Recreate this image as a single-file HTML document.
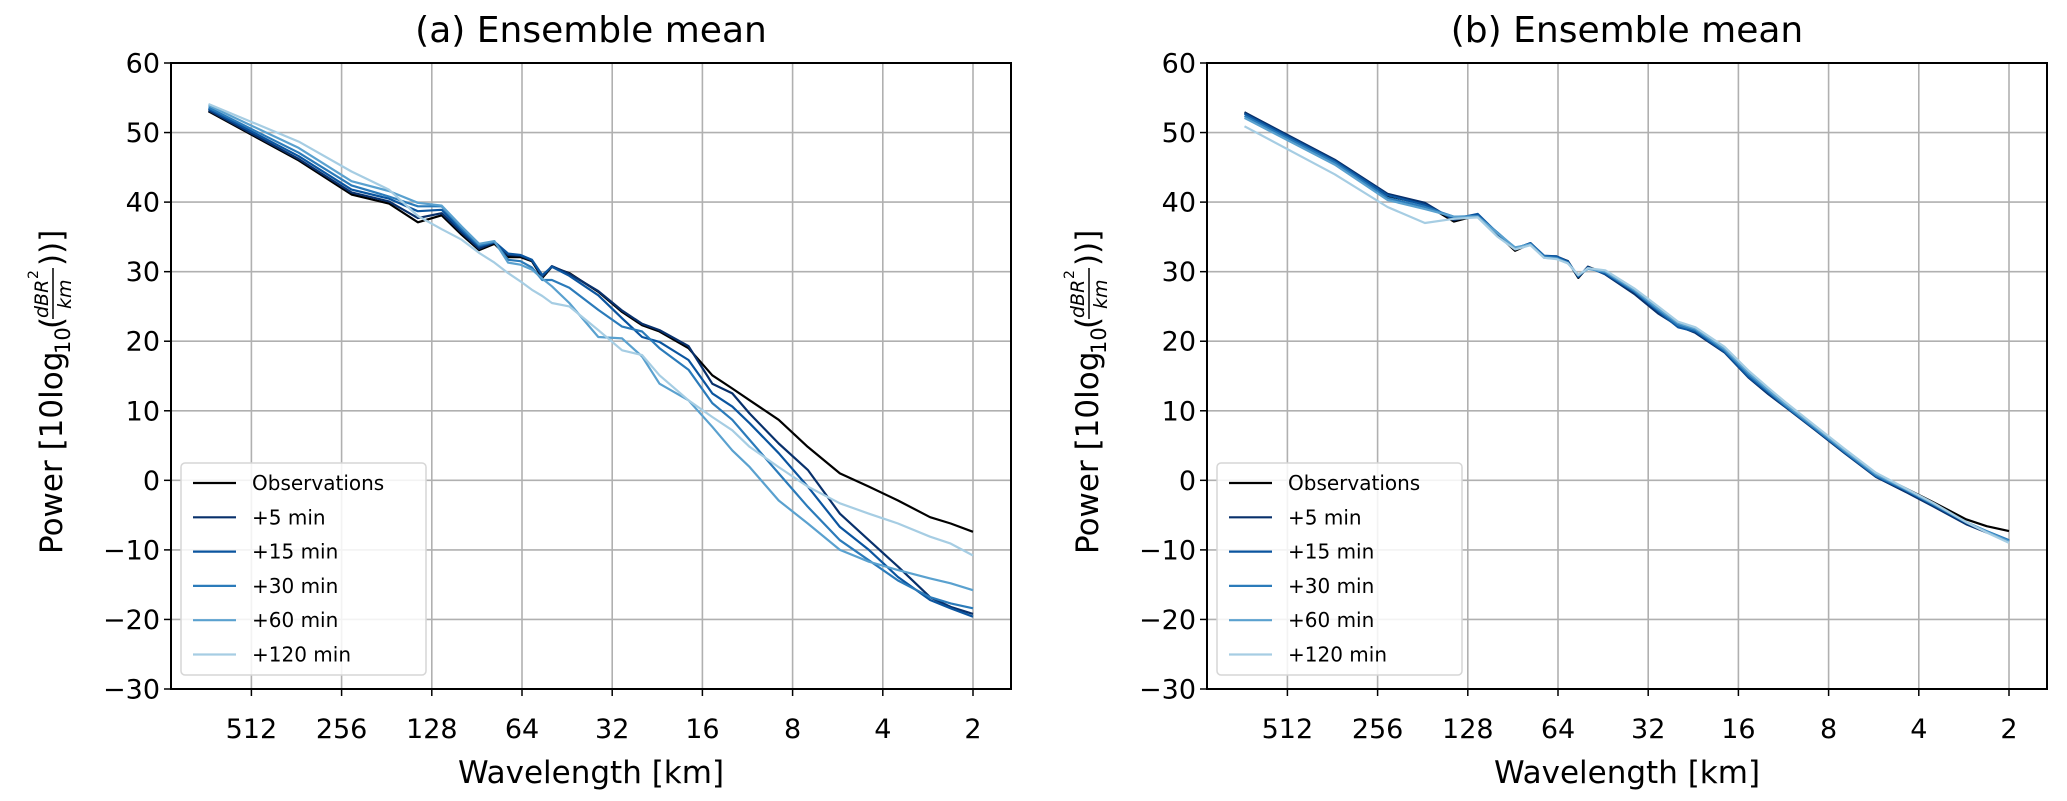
<!DOCTYPE html>
<html><head><meta charset="utf-8"><style>
html,body{margin:0;padding:0;background:#fff;}
svg{display:block;font-family:"DejaVu Sans","Liberation Sans",sans-serif;}
</style></head><body>
<svg id="fig" width="2067" height="801" viewBox="0 0 2067 801" xmlns="http://www.w3.org/2000/svg"></svg>
<script>
// ---- data ----
const wavenumbers = [1,2,3,4,5,6,7,8,9,10,11,12,13,14,16,20,24,28,32,40,48,56,64,80,100,128,160,200,256,300,356];
const domainKm = 712;
const xTickLabels = [512,256,128,64,32,16,8,4,2];
const yTickLabels = [60,50,40,30,20,10,0,-10,-20,-30];
const seriesNames = ["Observations","+5 min","+15 min","+30 min","+60 min","+120 min"];
const seriesColors = ["#000000","#08306b","#0b559f","#2b7bba","#5aa1cf","#a6cde3"];

const aObs  = [53.05,46.0,41.1,39.8,37.1,38.1,35.3,33.1,34.0,32.1,32.1,31.5,29.1,30.7,29.8,27.1,24.2,22.3,21.4,19.0,15.1,13.2,11.5,8.7,4.8,1.0,-0.9,-2.9,-5.3,-6.2,-7.4];
const a5    = [53.2,46.2,41.4,40.1,37.7,38.4,35.6,33.3,34.2,32.4,32.3,31.6,29.3,30.8,29.7,27.2,24.4,22.5,21.6,19.3,13.9,12.5,9.6,5.3,1.5,-4.8,-8.6,-12.4,-16.8,-18.2,-19.2];
const a15   = [53.4,46.6,41.8,40.5,38.7,38.9,35.9,33.6,34.3,32.6,32.4,31.7,29.5,30.7,29.4,26.6,23.3,20.6,19.9,17.3,12.5,10.6,8.2,3.9,-0.9,-6.7,-10.0,-13.9,-17.2,-18.4,-19.6];
const a30   = [53.6,47.1,42.4,40.8,39.4,39.4,36.2,33.8,34.3,31.7,31.5,30.6,28.8,28.8,27.7,24.5,22.1,21.4,19.0,15.9,11.1,8.7,5.8,1.0,-3.8,-8.6,-11.5,-14.4,-16.8,-17.7,-18.4];
const a60   = [53.9,47.8,43.0,41.6,39.9,39.5,36.5,34.0,34.4,31.3,31.0,30.3,29.0,27.9,25.5,20.6,20.4,17.8,13.9,11.5,7.7,4.3,1.9,-2.9,-6.2,-10.0,-11.7,-12.9,-14.1,-14.8,-15.8];
const a120  = [54.1,48.7,44.4,41.8,38.0,36.1,34.6,32.7,31.3,29.8,28.6,27.4,26.5,25.5,25.0,21.6,18.7,18.0,15.1,11.5,9.1,7.2,4.8,1.9,-0.9,-3.3,-4.8,-6.2,-8.1,-9.1,-10.8];

const bObs  = [52.9,45.8,40.9,39.7,37.2,38.1,35.3,33.0,34.0,32.1,32.1,31.5,29.1,30.7,29.8,27.0,24.1,22.4,21.3,18.6,15.0,12.6,10.8,7.6,4.4,0.9,-1.1,-3.2,-5.6,-6.6,-7.3];
const b5    = [52.9,46.1,41.2,39.9,37.4,38.2,35.4,33.2,34.1,32.2,32.2,31.5,29.2,30.7,29.6,26.8,24.0,22.2,21.2,18.4,14.8,12.4,10.5,7.3,4.0,0.5,-1.6,-3.8,-6.3,-7.5,-8.7];
const b15   = [52.7,45.9,41.0,39.6,37.6,38.3,35.5,33.3,34.1,32.3,32.2,31.4,29.3,30.6,29.7,27.1,24.3,22.0,21.4,18.5,14.9,12.6,10.6,7.4,4.1,0.6,-1.4,-3.6,-6.1,-7.4,-8.8];
const b30   = [52.4,45.7,40.6,39.3,37.9,38.0,35.6,33.4,34.0,32.2,32.0,31.3,29.4,30.5,29.9,27.2,24.5,22.3,21.6,18.7,15.2,12.8,10.7,7.5,4.2,0.7,-1.3,-3.5,-6.0,-7.3,-8.6];
const b60   = [52.1,45.4,40.3,39.0,37.9,37.9,35.5,33.5,33.9,32.0,31.9,31.2,29.5,30.4,30.0,27.4,24.7,22.6,21.8,18.9,15.5,13.0,10.9,7.7,4.4,0.9,-1.2,-3.4,-6.0,-7.4,-8.8];
const b120  = [50.9,44.0,39.3,37.0,37.6,37.8,35.0,33.2,33.8,32.0,31.8,31.2,29.5,30.5,30.2,27.6,25.0,22.8,22.0,19.2,15.8,13.3,11.2,7.9,4.6,1.1,-1.1,-3.3,-6.0,-7.5,-9.0];

const panelASeries = [aObs,a5,a15,a30,a60,a120];
const panelBSeries = [bObs,b5,b15,b30,b60,b120];

// ---- layout ----
const NS = "http://www.w3.org/2000/svg";
const svg = document.getElementById("fig");
const plotTop = 63, plotBottom = 689;
function el(tag, attrs, parent){
  const e = document.createElementNS(NS, tag);
  for (const k in attrs) e.setAttribute(k, attrs[k]);
  (parent||svg).appendChild(e);
  return e;
}
function yScale(v){ return plotBottom - (v - (-30)) / 90 * (plotBottom - plotTop); }

function drawPanel(off, title, series, key){
  const left = 171 + off, right = 1011 + off;
  const x2 = 973 + off, dx = 90.2;
  const xScale = wl => x2 - dx * Math.log2(wl / 2);
  const g = el("g", {});
  
  

  xTickLabels.forEach(t => {
    const x = xScale(t);
    const l = el("line", {x1:x, x2:x, y1:plotTop, y2:plotBottom, stroke:"#b0b0b0", "stroke-width":1.6}, g);
    
    
  });
  yTickLabels.forEach(t => {
    const y = yScale(t);
    const l = el("line", {x1:left, x2:right, y1:y, y2:y, stroke:"#b0b0b0", "stroke-width":1.6}, g);
    
    
  });

  series.forEach((vals, i) => {
    const pts = wavenumbers.map((n, j) => xScale(domainKm / n).toFixed(1) + "," + yScale(vals[j]).toFixed(1)).join(" ");
    const p = el("polyline", {points:pts, fill:"none", stroke:seriesColors[i], "stroke-width":2.2, "stroke-linejoin":"round"}, g);
    
    
  });

  const frame = el("rect", {x:left, y:plotTop, width:right-left, height:plotBottom-plotTop, fill:"none", stroke:"#000", "stroke-width":2}, g);
  
  

  xTickLabels.forEach(t => {
    const x = xScale(t);
    el("line", {x1:x, x2:x, y1:plotBottom, y2:plotBottom+7, stroke:"#000", "stroke-width":1.5}, g);
    const tx = el("text", {x:x, y:738, "font-size":27, "text-anchor":"middle"}, g);
    tx.textContent = t;
    
    
  });
  yTickLabels.forEach(t => {
    const y = yScale(t);
    el("line", {x1:left-7, x2:left, y1:y, y2:y, stroke:"#000", "stroke-width":1.5}, g);
    const ty = el("text", {x:left-11, y:y+9.5, "font-size":27, "text-anchor":"end"}, g);
    ty.textContent = (t < 0 ? "\u2212" + (-t) : t);
    
    
  });

  const tt = el("text", {x:(left+right)/2, y:42, "font-size":36, "text-anchor":"middle"}, g);
  tt.textContent = title;
  
  

  const xl = el("text", {x:(left+right)/2, y:783, "font-size":31, "text-anchor":"middle"}, g);
  xl.textContent = "Wavelength [km]";
  
  

  const yl = el("g", {transform:"translate(" + (62+off) + ",376) rotate(-90)"}, g);
  
  
  const t1 = el("text", {x:-178, y:0, "font-size":31}, yl);
  t1.textContent = "Power [10log";
  const t2 = el("text", {x:22, y:8, "font-size":21}, yl);
  t2.textContent = "10";
  const t3 = el("text", {x:47, y:0, "font-size":31}, yl);
  t3.textContent = "(";
  const t4 = el("text", {x:58, y:-14, "font-size":19, "font-style":"italic"}, yl);
  t4.textContent = "dBR";
  const t4b = el("text", {x:97, y:-24, "font-size":14}, yl);
  t4b.textContent = "2";
  el("line", {x1:57, x2:108, y1:-9, y2:-9, stroke:"#000", "stroke-width":1.5}, yl);
  const t5 = el("text", {x:67, y:9, "font-size":19, "font-style":"italic"}, yl);
  t5.textContent = "km";
  const t6 = el("text", {x:110, y:0, "font-size":31}, yl);
  t6.textContent = "))]";

  const lg = el("g", {}, g);
  
  
  el("rect", {x:181+off, y:463, width:245, height:212, rx:4, fill:"#fff", "fill-opacity":0.85, stroke:"#d6d6d6", "stroke-width":1.5}, lg);
  seriesNames.forEach((nm, i) => {
    const y = 483 + i*34.3;
    const e = el("g", {}, lg);
    
    
    el("line", {x1:193+off, x2:236+off, y1:y, y2:y, stroke:seriesColors[i], "stroke-width":2.2}, e);
    const tx = el("text", {x:252+off, y:y+7, "font-size":20}, e);
    tx.textContent = nm;
  });
}

drawPanel(0, "(a) Ensemble mean", panelASeries, "a");
drawPanel(1036, "(b) Ensemble mean", panelBSeries, "b");
</script>
</body></html>
